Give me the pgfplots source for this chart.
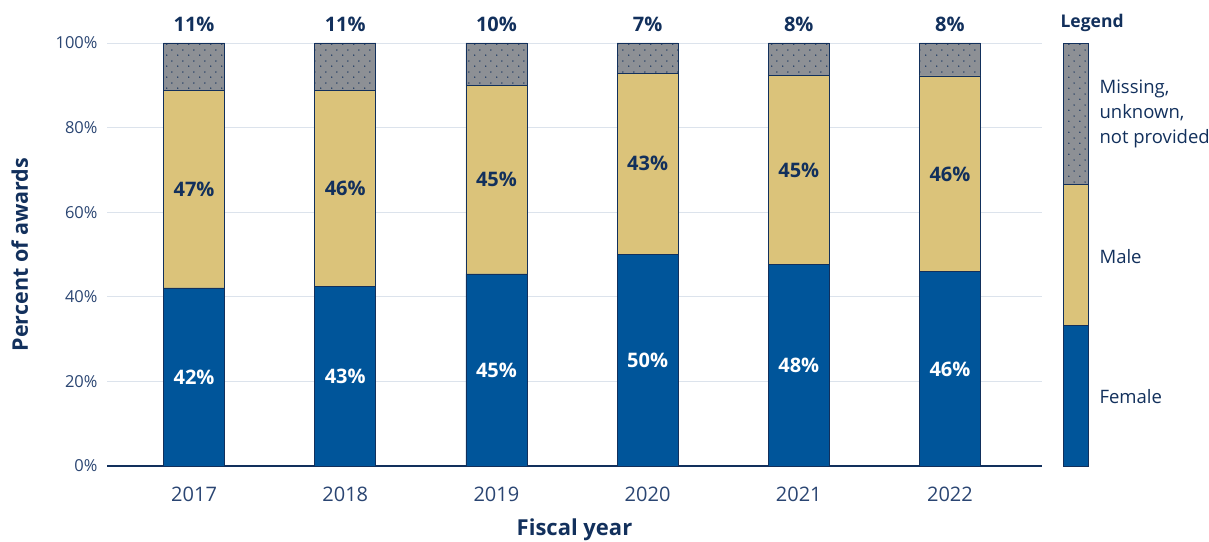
\documentclass[border=0pt]{standalone}
\usepackage{fontspec}
\setmainfont{Open Sans}
\usepackage{pgfplots}
\pgfplotsset{compat=1.18}
\usepackage{pgfplotstable}
\usetikzlibrary{patterns.meta}

\definecolor{fem}{HTML}{00559A}
\definecolor{mal}{HTML}{DBC37A}
\definecolor{mis}{HTML}{8D9095}
\definecolor{navy}{HTML}{12305C}
\definecolor{tickc}{HTML}{2A4572}
\definecolor{gridc}{HTML}{DCE3EC}

\tikzdeclarepattern{name=sdots, type=uncolored,
  bounding box={(0pt,0pt) and (11pt,11pt)}, tile size={(11pt,11pt)},
  code={\fill (2pt,2pt) circle (0.8pt); \fill (7.5pt,7.5pt) circle (0.8pt);}}

\pgfplotstableread{
x f m u fm mm top fl ml ul
0 42.1 46.6 11.3 21.05 65.40 104.3 42 47 11
1 42.5 46.2 11.3 21.25 65.60 104.3 43 46 11
2 45.4 44.5 10.1 22.70 67.65 104.3 45 45 10
3 50.1 42.8  7.1 25.05 71.50 104.3 50 43 7
4 47.6 44.8  7.6 23.80 70.00 104.3 48 45 8
5 45.9 46.3  7.8 22.95 69.05 104.3 46 46 8
}\data

\pgfplotstableread{
x v
0 33.333
}\legdata

\begin{document}
\begin{tikzpicture}
\useasboundingbox (0,0) rectangle (1209pt,541pt);
\pgfplotsset{
  base/.style={
    scale only axis, width=935pt, height=423pt,
    at={(107pt,75pt)}, anchor=south west,
    xmin=-0.576, xmax=5.609, ymin=0, ymax=100,
  }
}
\begin{axis}[base,
  ybar stacked, bar width=61pt,
  axis line style={draw=none},
  major tick length=0pt,
  ytick={0,20,40,60,80,100},
  yticklabels={0\%,20\%,40\%,60\%,80\%,100\%},
  xtick={0,1,2,3,4,5},
  xticklabels={2017,2018,2019,2020,2021,2022},
  ymajorgrids, major grid style={gridc, line width=0.9pt},
  yticklabel style={font=\fontsize{16.5}{18}\selectfont, text=tickc, anchor=east, xshift=-6pt},
  xticklabel style={font=\fontsize{20}{22}\selectfont, text=tickc, anchor=center, yshift=-28pt},
  extra y ticks={0}, extra y tick labels={},
  extra y tick style={grid=major, major grid style={navy, line width=1.6pt}},
  xlabel={Fiscal year}, ylabel={Percent of awards},
  xlabel style={font=\bfseries\fontsize{22}{24}\selectfont, text=navy, at={(axis description cs:0.5,0)}, anchor=base, yshift=-69pt},
  ylabel style={font=\bfseries\fontsize{21.5}{24}\selectfont, text=navy, at={(axis description cs:0,0.5)}, anchor=base, yshift=79pt},
  clip=false,
]
\addplot[fill=fem, draw=navy, line width=0.8pt] table[x=x, y=f] {\data};
\addplot[fill=mal, draw=navy, line width=0.8pt] table[x=x, y=m] {\data};
\addplot[fill=mis, draw=navy, line width=0.8pt, postaction={pattern=sdots, pattern color=navy}] table[x=x, y=u] {\data};
\end{axis}
\begin{axis}[base, hide axis, clip=false,
  nodes near coords={\pgfmathprintnumber[assume math mode=true,fixed,precision=0]{\pgfplotspointmeta}\%},
  point meta=explicit,
]
\addplot[draw=none, mark=none, nodes near coords style={anchor=center, text=white, font=\bfseries\fontsize{20}{22}\selectfont}] table[x=x, y=fm, meta=fl] {\data};
\addplot[draw=none, mark=none, nodes near coords style={anchor=center, text=navy, font=\bfseries\fontsize{20}{22}\selectfont}] table[x=x, y=mm, meta=ml] {\data};
\addplot[draw=none, mark=none, nodes near coords style={anchor=center, text=navy, font=\bfseries\fontsize{20}{22}\selectfont}] table[x=x, y=top, meta=ul] {\data};
\end{axis}
\begin{axis}[scale only axis, width=25pt, height=423pt,
  at={(1063pt,75pt)}, anchor=south west,
  xmin=-0.5, xmax=0.5, ymin=0, ymax=100,
  hide axis, clip=false, ybar stacked, bar width=25pt,
]
\addplot[fill=fem, draw=navy, line width=0.8pt] table[x=x, y=v] {\legdata};
\addplot[fill=mal, draw=navy, line width=0.8pt] table[x=x, y=v] {\legdata};
\addplot[fill=mis, draw=navy, line width=0.8pt, postaction={pattern=sdots, pattern color=navy}] table[x=x, y=v] {\legdata};
\node[anchor=west, text=navy, font=\fontsize{18.5}{25}\selectfont] at (axis cs:0.5,16.3) [xshift=8pt] {Female};
\node[anchor=west, text=navy, font=\fontsize{18.5}{25}\selectfont] at (axis cs:0.5,49.6) [xshift=8pt] {Male};
\node[anchor=west, text=navy, font=\fontsize{18.5}{25}\selectfont, align=left] at (axis cs:0.5,83.2) [xshift=8pt] {Missing,\\unknown,\\not provided};
\node[anchor=west, text=navy, font=\bfseries\fontsize{17.5}{20}\selectfont] at (axis cs:-0.5,104.7) [xshift=-6pt] {Legend};
\end{axis}
\end{tikzpicture}
\end{document}
